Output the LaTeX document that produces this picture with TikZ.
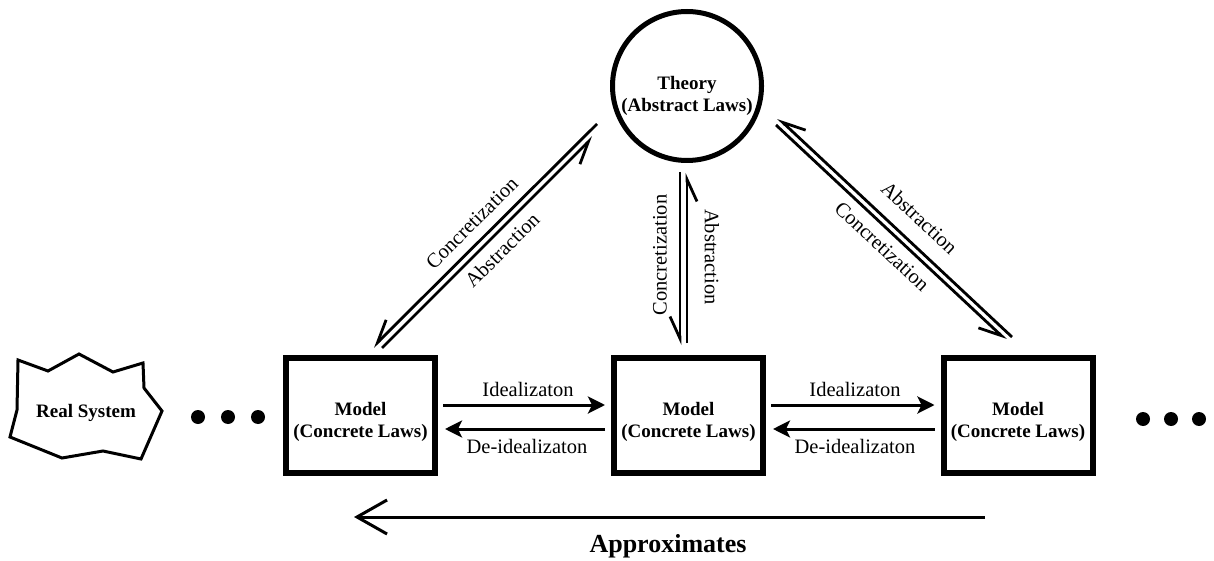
\documentclass[tikz,border=0pt]{standalone}
\usepackage{fontspec}
\setmainfont{Liberation Serif}
\usetikzlibrary{arrows.meta,calc}
\begin{document}
\begin{tikzpicture}[x=1pt,y=-1pt,
  boxstyle/.style={draw, line width=6pt, minimum width=149pt, minimum height=115pt, outer sep=0pt, inner sep=0pt},
  theorystyle/.style={draw, circle, line width=5pt, minimum size=149pt, outer sep=0pt, inner sep=0pt},
  boldtext/.style={font=\fontsize{19}{22}\selectfont\bfseries, align=center, inner sep=0pt},
  labeltext/.style={font=\fontsize{20.5}{24}\selectfont, inner sep=0pt},
  harp/.style={line width=2.8pt, -{Straight Barb[length=22pt, width=20pt, right]}},
  flow/.style={line width=3pt, -{Stealth[length=17pt, width=17pt, inset=4pt]}},
  dotstyle/.style={fill, circle, minimum size=14pt, inner sep=0pt},
  approx/.style={line width=3pt, -{Straight Barb[length=30pt, width=34pt]}}
]
\useasboundingbox (0,0) rectangle (1214,561);

% Theory
\node[theorystyle] (T) at (687,86) {};
\node[boldtext] (Tt) at (687,96) {Theory\\(Abstract Laws)};

% Models
\node[boxstyle] (M1) at (360.5,415.5) {};
\node[boxstyle] (M2) at (688.5,415.5) {};
\node[boxstyle] (M3) at (1018,415.5) {};
\node[boldtext] (M1t) at (360.5,421.5) {Model\\(Concrete Laws)};
\node[boldtext] (M2t) at (688.5,421.5) {Model\\(Concrete Laws)};
\node[boldtext] (M3t) at (1018,421.5) {Model\\(Concrete Laws)};

% Real system
\draw[line width=3pt, line join=miter] (18,360) -- (48,371) -- (79,354) -- (113,372) -- (143,363) -- (144,388) -- (162,411) -- (141,459) -- (103,451) -- (62,458) -- (10,437) -- (17,410) -- cycle;
\node[boldtext] (RS) at (86,412.5) {Real System};

% Dots
\node[dotstyle] (dl1) at (198,417) {};
\node[dotstyle] (dl2) at (228,417) {};
\node[dotstyle] (dl3) at (258,417) {};
\node[dotstyle] (dr1) at (1143,419) {};
\node[dotstyle] (dr2) at (1171,419) {};
\node[dotstyle] (dr3) at (1199,419) {};

% Theory <-> models
\draw[harp] ($(T.center)+(-90,38)$) -- ($(M1.center)+(12.5,-68.5)$);
\draw[harp] ($(M1.center)+(21.5,-67.5)$) -- ($(T.center)+(-94,51)$);
\draw[harp] ($(T.center)+(-7,86)$) -- ($(M2.center)+(-8.5,-70.5)$);
\draw[harp] ($(M2.center)+(-1.5,-72.5)$) -- ($(T.center)+(0,87)$);
\draw[harp] ($(M3.center)+(-6,-78.5)$) -- ($(T.center)+(91,32)$);
\draw[harp] ($(T.center)+(89,39)$) -- ($(M3.center)+(-12,-75.5)$);

\node[labeltext, rotate=45] (lc1) at (472,223) {Concretization};
\node[labeltext, rotate=45] (la1) at (502,250) {Abstraction};
\node[labeltext, rotate=90] (lc2) at (660,255) {Concretization};
\node[labeltext, rotate=-90] (la2) at (712,257) {Abstraction};
\node[labeltext, rotate=-43] (la3) at (919.5,217.5) {Abstraction};
\node[labeltext, rotate=-43] (lc3) at (882,246.5) {Concretization};

% Model <-> model
\draw[flow] ($(M1.east)+(8,-10.5)$) -- ($(M2.west)+(-9,-10.5)$);
\draw[flow] ($(M2.west)+(-9,13.5)$) -- ($(M1.east)+(10,13.5)$);
\draw[flow] ($(M2.east)+(8,-10.5)$) -- ($(M3.west)+(-9,-10.5)$);
\draw[flow] ($(M3.west)+(-9,13.5)$) -- ($(M2.east)+(10,13.5)$);
\node[labeltext, anchor=base] (i1) at (528,396) {Idealizaton};
\node[labeltext, anchor=base] (de1) at (527,453) {De-idealizaton};
\node[labeltext, anchor=base] (i2) at (855,396) {Idealizaton};
\node[labeltext, anchor=base] (de2) at (855,453) {De-idealizaton};

% Approximates
\draw[approx] ($(M3.south)+(-33,44)$) -- ($(M1.south)+(-6.5,44)$);
\node[font=\fontsize{26}{30}\selectfont\bfseries, anchor=base, inner sep=0pt] (ap) at (668,552) {Approximates};
\end{tikzpicture}
\end{document}
